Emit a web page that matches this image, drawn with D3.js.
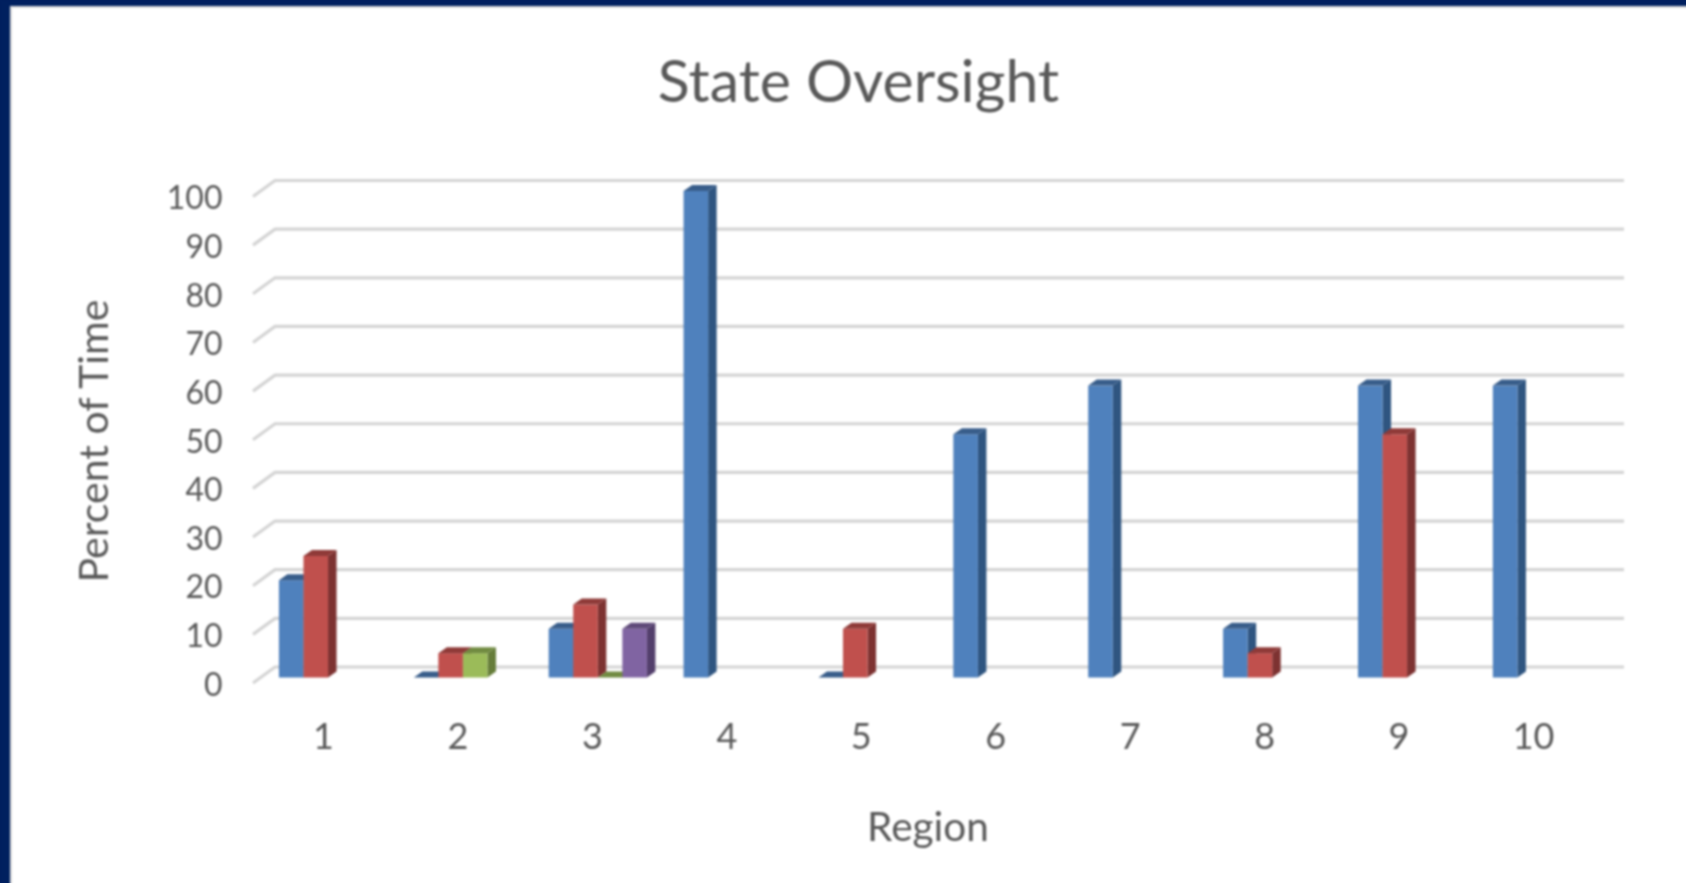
<!DOCTYPE html>
<html>
<head>
<meta charset="utf-8">
<script src="https://cdn.jsdelivr.net/npm/d3@7"></script>
<style>
  html, body { margin: 0; padding: 0; background: #00205f; overflow: hidden; }
  #svg-container { width: 1686px; height: 883px; }
  svg { display: block; filter: blur(0.8px); }
  text { font-family: Lato, "Open Sans", sans-serif; fill: #595959; }
</style>
</head>
<body>
<div id="svg-container"></div>
<script>
// data
const regions = ["1", "2", "3", "4", "5", "6", "7", "8", "9", "10"];
const seriesA = [20, 0, 10, 100, 0, 50, 60, 10, 60, 60];
const seriesB = [25, 5, 15, null, 10, null, null, 5, 50, null];
const seriesC = [null, 5, 0, null, null, null, null, null, null, null];
const seriesD = [null, null, 10, null, null, null, null, null, null, null];
const yTicks = [0, 10, 20, 30, 40, 50, 60, 70, 80, 90, 100];

const colors = [
  { front: "#4f81bd", side: "#2f5580", top: "#385d8a" },
  { front: "#c0504d", side: "#7d3231", top: "#8f3a38" },
  { front: "#9bbb59", side: "#667d3a", top: "#718b41" },
  { front: "#8064a2", side: "#533f6c", top: "#5f4a79" },
];

// svg is a bit bigger than the window so the blur has no edge at right and bottom
const width = 1710;
const height = 905;

const svg = d3
  .select("#svg-container")
  .append("svg")
  .attr("width", width)
  .attr("height", height);

// white panel on the navy slide
svg.append("rect").attr("width", width).attr("height", height).attr("fill", "#00205f");
svg.append("rect").attr("x", 10).attr("y", 6).attr("width", width - 10).attr("height", height - 6).attr("fill", "#dcdcdc");
svg.append("rect").attr("x", 12).attr("y", 8).attr("width", width - 12).attr("height", height - 8).attr("fill", "#ffffff");

// scales for the plane of the bar fronts
const yScale = d3.scaleLinear().domain([0, 100]).range([677.5, 191]);
const xScale = d3
  .scaleBand()
  .domain(regions)
  .range([261, 1609])
  .paddingInner(0.272)
  .paddingOuter(0.133);
const xSeries = d3.scaleBand().domain(d3.range(4)).range([0, xScale.bandwidth()]);

// the labels have a slightly tighter pitch than the bars
const xLabels = d3.scalePoint().domain(regions).range([323, 1533]);

// 3d offsets
const barDx = 8.5;
const barDy = 6;
const wallDx = 14;   // bar front -> back wall
const wallDy = 10.5;
const floorDx = 8;   // bar front -> front edge of floor
const floorDy = 5.5;

// gridlines on wall and floor side
const grid = svg.append("g").attr("fill", "none").attr("stroke", "#d4d4d4").attr("stroke-width", 3.2);
yTicks.forEach((t) => {
  const y = yScale(t);
  const left = xScale.range()[0];
  const right = xScale.range()[1];
  grid
    .append("path")
    .attr(
      "d",
      d3.line()([
        [left - floorDx, y + floorDy],
        [left + wallDx, y - wallDy],
        [right + wallDx + 1, y - wallDy],
      ])
    );
});

// bars
const allSeries = [seriesA, seriesB, seriesC, seriesD];
const bars = svg.append("g");
regions.forEach((r, i) => {
  allSeries.forEach((values, s) => {
    const v = values[i];
    if (v === null) return;
    const x0 = xScale(r) + xSeries(s);
    const x1 = x0 + xSeries.bandwidth();
    const y0 = yScale(0);
    const y1 = yScale(v);
    const c = colors[s];
    if (v > 0) {
      bars
        .append("polygon")
        .attr("points", [[x1, y0], [x1 + barDx, y0 - barDy], [x1 + barDx, y1 - barDy], [x1, y1]].join(" "))
        .attr("fill", c.side);
      bars
        .append("rect")
        .attr("x", x0)
        .attr("y", y1)
        .attr("width", x1 - x0)
        .attr("height", y0 - y1)
        .attr("fill", c.front);
    }
    bars
      .append("polygon")
      .attr("points", [[x0, y1], [x0 + barDx, y1 - barDy], [x1 + barDx, y1 - barDy], [x1, y1]].join(" "))
      .attr("fill", c.top);
  });
});

// y axis labels
svg
  .append("g")
  .attr("transform", "translate(222.5,7.5)")
  .call(d3.axisLeft(yScale).tickValues(yTicks).tickSize(0).tickPadding(0))
  .call((g) => g.select(".domain").remove())
  .call((g) => g.selectAll("text").style("font-size", "32px").attr("fill", "#595959"));

// x axis labels
svg
  .append("g")
  .attr("transform", "translate(0,723)")
  .call(d3.axisBottom(xLabels).tickSize(0).tickPadding(0))
  .call((g) => g.select(".domain").remove())
  .call((g) => g.selectAll("text").style("font-size", "36px").attr("fill", "#595959"));

svg
  .append("text")
  .attr("x", 858.5)
  .attr("y", 102)
  .attr("text-anchor", "middle")
  .style("font-size", "59px")
  .text("State Oversight");

svg
  .append("text")
  .attr("x", 928)
  .attr("y", 841)
  .attr("text-anchor", "middle")
  .style("font-size", "40.5px")
  .text("Region");

svg
  .append("text")
  .attr("transform", "translate(108,441) rotate(-90)")
  .attr("text-anchor", "middle")
  .style("font-size", "41px")
  .text("Percent of Time");
</script>
</body>
</html>
